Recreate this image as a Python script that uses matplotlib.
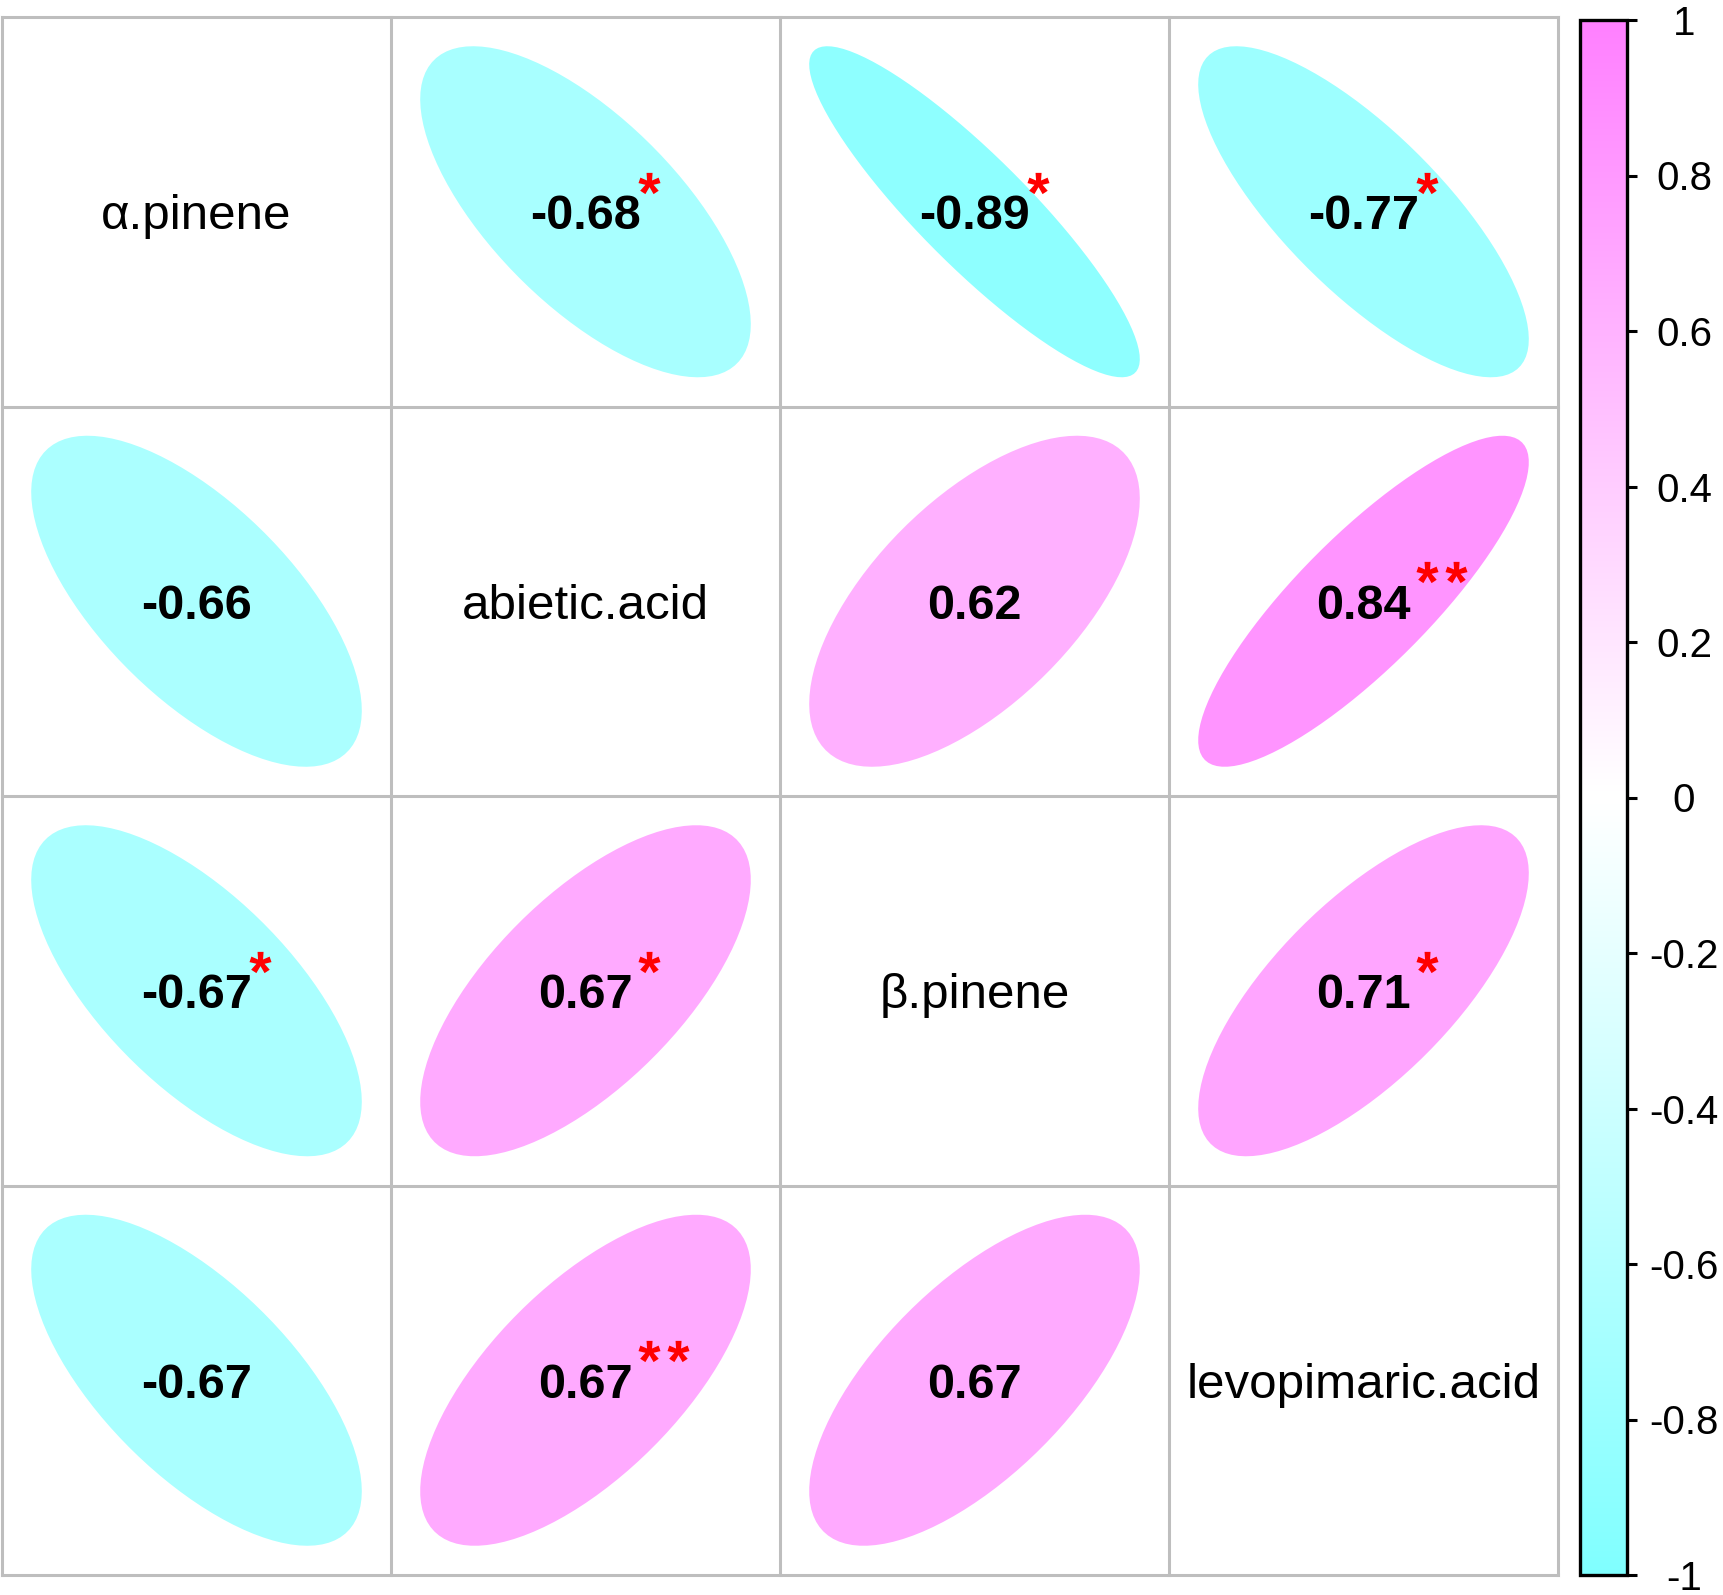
import numpy as np
import matplotlib
matplotlib.use("Agg")
import matplotlib.pyplot as plt
from matplotlib.colors import LinearSegmentedColormap, Normalize
from matplotlib.cm import ScalarMappable
from matplotlib.textpath import TextPath
from matplotlib.font_manager import FontProperties
from matplotlib.path import Path
from matplotlib.transforms import ScaledTranslation

plt.rcParams['font.family'] = ['Liberation Sans', 'DejaVu Sans']

variables = ["α.pinene", "abietic.acid", "β.pinene", "levopimaric.acid"]

# correlation values as shown (diagonal holds the names)
corr = np.array([
    [1.00, -0.68, -0.89, -0.77],
    [-0.66, 1.00, 0.62, 0.84],
    [-0.67, 0.67, 1.00, 0.71],
    [-0.67, 0.67, 0.67, 1.00],
])

stars = [
    ["", "*", "*", "*"],
    ["", "", "", "**"],
    ["*", "*", "", "*"],
    ["", "**", "", ""],
]

cbar_ticks = [-1, -0.8, -0.6, -0.4, -0.2, 0, 0.2, 0.4, 0.6, 0.8, 1]
cbar_labels = ["-1", "-0.8", "-0.6", "-0.4", "-0.2", "0", "0.2", "0.4", "0.6", "0.8", "1"]

cmap = LinearSegmentedColormap.from_list("cyan_magenta", ["#80FFFF", "#FFFFFF", "#FF80FF"])
norm = Normalize(-1, 1)

W, H = 1723, 1595
fig = plt.figure(figsize=(W / 100, H / 100), dpi=100)
ax = fig.add_axes([2 / W, 20 / H, 1556 / W, 1558 / H])
n = len(variables)
ax.set_xlim(0.5, n + 0.5)
ax.set_ylim(n + 0.5, 0.5)
ax.axis("off")


def ell_dat(rho, length=99):
    k = np.linspace(0, 2 * np.pi, length)
    x = np.cos(k + np.arccos(rho) / 2) / 2
    y = np.cos(k - np.arccos(rho) / 2) / 2
    return 0.85 * x, 0.85 * y


# asterisk glyph as a centred marker
tp = TextPath((0, 0), "*", prop=FontProperties(family="Liberation Sans", weight="bold"))
codes = tp.codes
v = tp.vertices.copy()
real = codes != Path.CLOSEPOLY
v -= (v[real].max(axis=0) + v[real].min(axis=0)) / 2
v[~real] = 0
star_marker = Path(v, codes)

px = 0.72  # points per pixel at dpi 100

for i in range(n):
    for j in range(n):
        cx, cy = j + 1, i + 1
        if i == j:
            ax.annotate(variables[i], (cx, cy), xytext=(0, -17.5 * px), textcoords="offset points",
                        ha="center", va="baseline", fontsize=35.5)
            continue
        r = corr[i, j]
        ex, ey = ell_dat(r)
        # y axis is inverted, so flip sign to keep positive going up-right
        ax.fill(cx + ex, cy - ey, color=cmap(norm(r)), lw=0, zorder=1)
        ax.annotate("%.2f" % r, (cx, cy), xytext=(0, -17.5 * px), textcoords="offset points",
                    ha="center", va="baseline", fontsize=35, fontweight="bold", zorder=3)
        for s in range(len(stars[i][j])):
            off = ScaledTranslation((63 + 29 * s) / 100, 29 / 100, fig.dpi_scale_trans)
            ax.plot(cx, cy, marker=star_marker, ms=22 * px, color="red", mew=0,
                    transform=ax.transData + off, zorder=4)

for k in range(n + 1):
    ax.plot([0.5, n + 0.5], [k + 0.5, k + 0.5], color="#BEBEBE", lw=2.2, zorder=2, clip_on=False)
    ax.plot([k + 0.5, k + 0.5], [0.5, n + 0.5], color="#BEBEBE", lw=2.2, zorder=2, clip_on=False)

cax = fig.add_axes([1580 / W, 20 / H, 47 / W, 1555 / H])
sm = ScalarMappable(norm=norm, cmap=cmap)
cb = fig.colorbar(sm, cax=cax, ticks=cbar_ticks)
cb.outline.set_linewidth(2.4)
cb.outline.set_edgecolor("black")
cax.set_yticklabels(cbar_labels, ha="center")
cax.tick_params(axis="y", length=10 * px, width=2.2, pad=47 * px, labelsize=29)

fig.savefig("out.png", dpi=100, facecolor="white")
